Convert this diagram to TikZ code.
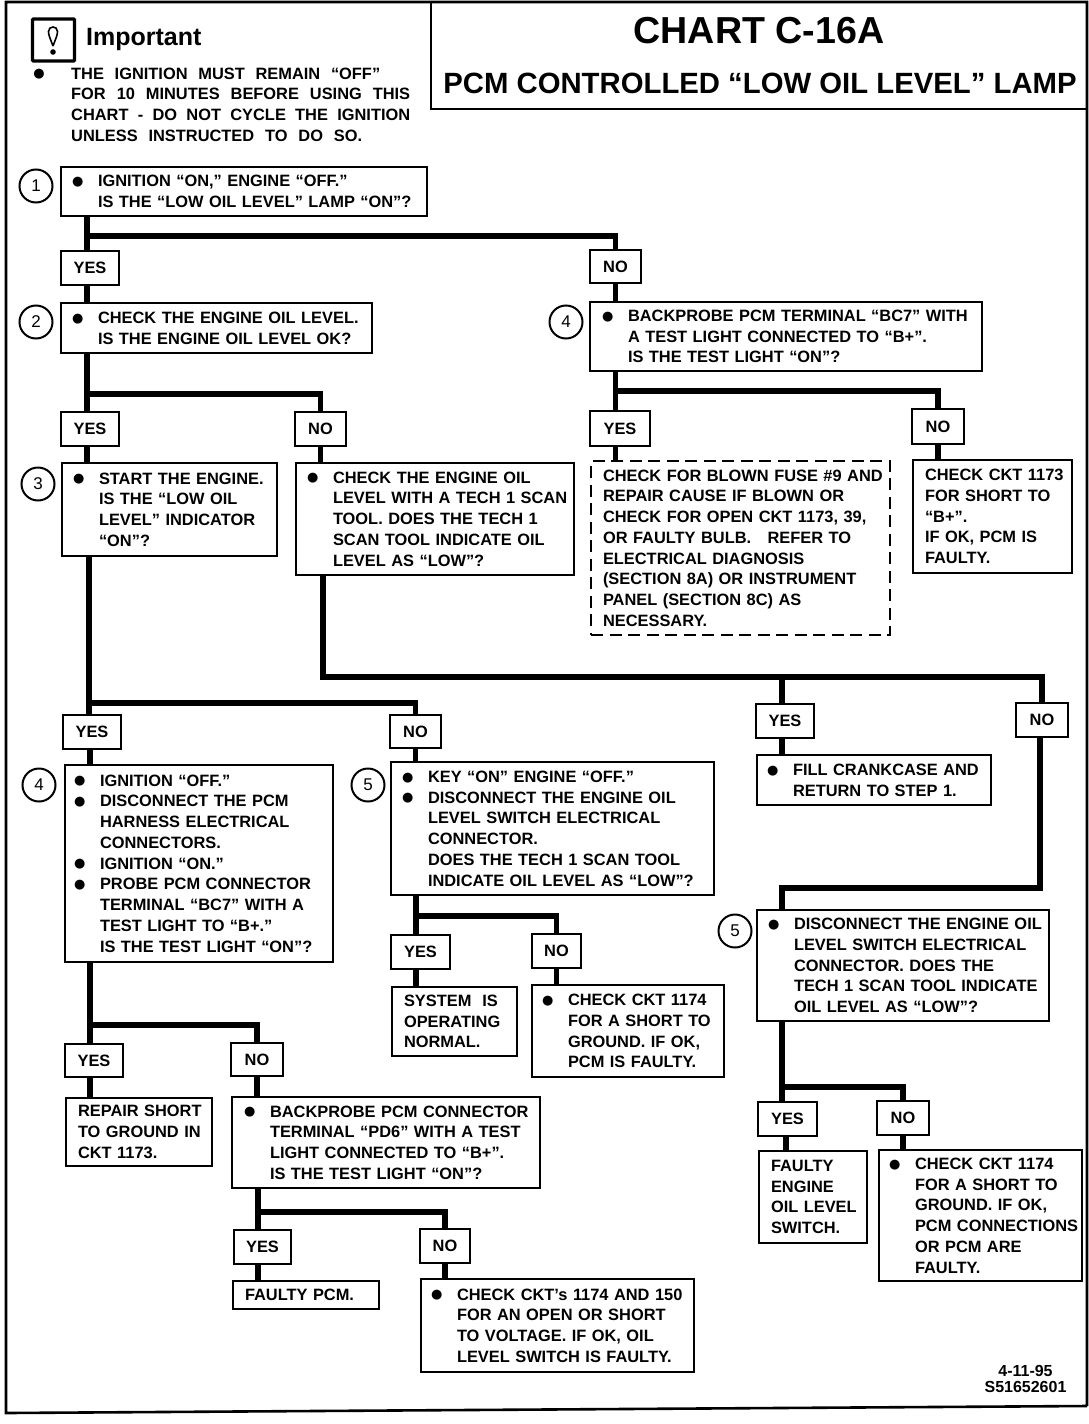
\documentclass[tikz,border=0pt]{standalone}
\usepackage{fontspec}
\setmainfont{Liberation Sans}
\newfontfamily\dotfont{DejaVu Sans}
\usetikzlibrary{calc}
\newcommand\bldot{\smash{\raisebox{1.2pt}{\dotfont\fontsize{13}{13}\selectfont ●}}}
\newcommand\bl{\leavevmode\llap{\bldot\hspace{14.5pt}}}
\newcommand\jl[2]{\leavevmode\hbox to #1pt{\spaceskip=4pt plus 1fil\relax #2}}
% style, name, x1,y1,x2,y2, text x, content
\newcommand\tb[8][box]{%
 \pgfmathsetmacro\bxw{#5-#3}\pgfmathsetmacro\bxh{#6-#4}%
 \pgfmathsetmacro\bxx{(#3+#5)/2}\pgfmathsetmacro\bxy{(#4+#6)/2}%
 \pgfmathsetmacro\bxp{#7-#3}%
 \node[#1,text width=\bxw pt,minimum height=\bxh pt] (#2) at (\bxx,\bxy)
 {\parindent=0pt\leftskip=\bxp pt\rightskip=-40pt plus 1fil\relax #8\par\vskip-5pt};}
\newcommand\yn[6]{%
 \pgfmathsetmacro\bxw{#4-#2}\pgfmathsetmacro\bxh{#5-#3}%
 \pgfmathsetmacro\bxx{(#2+#4)/2}\pgfmathsetmacro\bxy{(#3+#5)/2}%
 \node[ynbox,minimum width=\bxw pt,minimum height=\bxh pt] (#1) at (\bxx,\bxy) {#6};}
\tikzset{
 txt/.style={font=\fontsize{16.4}{20.75}\selectfont\bfseries},
 box/.style={draw=black,line width=2.3pt,inner sep=0pt,align=left,txt},
 dashbox/.style={box,dash pattern=on 12pt off 6.5pt},
 ynbox/.style={draw=black,line width=2.3pt,inner sep=0pt,align=center,txt},
 stepno/.style={draw=black,circle,line width=2pt,minimum size=33pt,inner sep=0pt,font=\fontsize{17}{17}\selectfont},
 conn/.style={draw=black,line width=5.2pt,line join=miter},
 frame/.style={draw=black,line width=2pt},
}
\begin{document}
\begin{tikzpicture}[x=1pt,y=-1pt]
\useasboundingbox (0,0) rectangle (1088,1424);
% frame and header
\coordinate (fTL) at (6,2);\coordinate (fTR) at (1087,2);
\coordinate (fBL) at (6,1413);\coordinate (fBR) at (1087,1406);
\draw[frame,line width=2.6pt] (fBR) -- (fBL) -- (fTL) -- (fTR) -- (fBR);
\coordinate (hL) at (431,2);\coordinate (hB) at (431,109);\coordinate (hR) at (1087,109);
\draw[frame] (hL) -- (hB) -- (hR);
\node[inner sep=0pt,font=\fontsize{37.6}{40}\selectfont\bfseries,anchor=base] (title) at (759,43.5) {CHART C-16A};
\node[inner sep=0pt,font=\fontsize{29.3}{30}\selectfont\bfseries,anchor=base] (subtitle) at (760,93.5) {PCM CONTROLLED “LOW OIL LEVEL” LAMP};
% important
\node[draw=black,line width=3.2pt,rounded corners=1pt,minimum width=42pt,minimum height=42pt,inner sep=0pt] (icon) at (53.5,40) {};
\draw[black,line width=1.6pt] (53,46) .. controls (50,38) and (48.5,35) .. (48.5,31.5) .. controls (48.5,25.5) and (57.5,25.5) .. (57.5,31.5) .. controls (57.5,35) and (56,38) .. (53,46);
\fill[black] (53,52) circle (2.8);
\node[inner sep=0pt,txt,font=\fontsize{25}{25}\selectfont\bfseries,anchor=base west] (imp) at (86,45) {Important};
\node[inner sep=0pt,txt,align=left,anchor=north west,text width=345pt] (note) at (71,67.5)
 {\parindent=0pt\leavevmode\llap{\bldot\hspace{26.5pt}}\jl{309}{THE IGNITION MUST REMAIN “OFF”}\\
  \jl{339}{FOR 10 MINUTES BEFORE USING THIS}\\
  \jl{339}{CHART - DO NOT CYCLE THE IGNITION}\\
  \jl{291}{UNLESS INSTRUCTED TO DO SO.}};
% step circles
\node[stepno] (c1) at (36,186) {1};
\node[stepno] (c2) at (36,322) {2};
\node[stepno] (c3) at (38,484) {3};
\node[stepno] (c4a) at (566,322) {4};
\node[stepno] (c4b) at (39,785) {4};
\node[stepno] (c5a) at (368,785) {5};
\node[stepno] (c5b) at (735,931) {5};
% boxes
\tb{b1}{61}{167}{427}{216}{98}{\bl IGNITION “ON,” ENGINE “OFF.”\\IS THE “LOW OIL LEVEL” LAMP “ON”?}
\tb{b2}{61}{303}{372}{353}{98}{\bl CHECK THE ENGINE OIL LEVEL.\\IS THE ENGINE OIL LEVEL OK?}
\tb{b3}{62}{463}{277}{556}{99}{\bl START THE ENGINE.\\IS THE “LOW OIL\\LEVEL” INDICATOR\\“ON”?}
\tb{b3n}{296}{463}{574}{575}{333}{\bl CHECK THE ENGINE OIL\\LEVEL WITH A TECH 1 SCAN\\TOOL. DOES THE TECH 1\\SCAN TOOL INDICATE OIL\\LEVEL AS “LOW”?}
\tb{b4a}{590}{302}{982}{371}{628}{\bl BACKPROBE PCM TERMINAL “BC7” WITH\\A TEST LIGHT CONNECTED TO “B+”.\\IS THE TEST LIGHT “ON”?}
\tb[dashbox]{fuse}{591}{461}{890}{635}{603}{CHECK FOR BLOWN FUSE \#9 AND\\REPAIR CAUSE IF BLOWN OR\\CHECK FOR OPEN CKT 1173, 39,\\OR FAULTY BULB.\ \ \ REFER TO\\ELECTRICAL DIAGNOSIS\\(SECTION 8A) OR INSTRUMENT\\PANEL (SECTION 8C) AS\\NECESSARY.}
\tb{short}{913}{460}{1072}{573}{925}{CHECK CKT 1173\\FOR SHORT TO\\“B+”.\\IF OK, PCM IS\\FAULTY.}
\tb{fill}{757}{755}{991}{805}{793}{\bl FILL CRANKCASE AND\\RETURN TO STEP 1.}
\tb{b5b}{757}{910}{1049}{1021}{794}{\bl DISCONNECT THE ENGINE OIL\\LEVEL SWITCH ELECTRICAL\\CONNECTOR. DOES THE\\TECH 1 SCAN TOOL INDICATE\\OIL LEVEL AS “LOW”?}
\tb{sw}{759}{1151}{867}{1243}{771}{FAULTY\\ENGINE\\OIL LEVEL\\SWITCH.}
\tb{ck2}{879}{1150}{1082}{1281}{915}{\bl CHECK CKT 1174\\FOR A SHORT TO\\GROUND. IF OK,\\PCM CONNECTIONS\\OR PCM ARE\\FAULTY.}
\tb{b4b}{65}{765}{333}{962}{100}{\bl IGNITION “OFF.”\\\bl DISCONNECT THE PCM\\HARNESS ELECTRICAL\\CONNECTORS.\\\bl IGNITION “ON.”\\\bl PROBE PCM CONNECTOR\\TERMINAL “BC7” WITH A\\TEST LIGHT TO “B+.”\\IS THE TEST LIGHT “ON”?}
\tb{b5a}{391}{762}{714}{895}{428}{\bl KEY “ON” ENGINE “OFF.”\\\bl DISCONNECT THE ENGINE OIL\\LEVEL SWITCH ELECTRICAL\\CONNECTOR.\\DOES THE TECH 1 SCAN TOOL\\INDICATE OIL LEVEL AS “LOW”?}
\tb{sys}{392}{987}{517}{1056}{404}{SYSTEM\ \ IS\\OPERATING\\NORMAL.}
\tb{ck1}{532}{985}{724}{1077}{568}{\bl CHECK CKT 1174\\FOR A SHORT TO\\GROUND. IF OK,\\PCM IS FAULTY.}
\tb{rep}{66}{1098}{212}{1166}{78}{REPAIR SHORT\\TO GROUND IN\\CKT 1173.}
\tb{bp}{232}{1097}{540}{1188}{270}{\bl BACKPROBE PCM CONNECTOR\\TERMINAL “PD6” WITH A TEST\\LIGHT CONNECTED TO “B+”.\\IS THE TEST LIGHT “ON”?}
\tb{fpcm}{233}{1281}{379}{1309}{245}{FAULTY PCM.}
\tb{ck3}{421}{1279}{694}{1372}{457}{\bl CHECK CKT’s 1174 AND 150\\FOR AN OPEN OR SHORT\\TO VOLTAGE. IF OK, OIL\\LEVEL SWITCH IS FAULTY.}
% yes/no
\yn{y1}{61}{251}{119}{285}{YES}
\yn{n1}{590}{250}{641}{283}{NO}
\yn{y2}{61}{412}{119}{446}{YES}
\yn{n2}{295}{412}{346}{446}{NO}
\yn{y3}{590}{411}{650}{446}{YES}
\yn{n3}{912}{409}{964}{444}{NO}
\yn{y4}{756}{704}{814}{738}{YES}
\yn{n4}{1016}{703}{1068}{737}{NO}
\yn{y5}{63}{715}{121}{749}{YES}
\yn{n5}{390}{715}{441}{748}{NO}
\yn{y6}{391}{935}{450}{969}{YES}
\yn{n6}{532}{934}{581}{968}{NO}
\yn{y7}{65}{1044}{123}{1077}{YES}
\yn{n7}{231}{1043}{283}{1076}{NO}
\yn{y8}{234}{1230}{291}{1264}{YES}
\yn{n8}{420}{1229}{470}{1263}{NO}
\yn{y9}{758}{1102}{817}{1136}{YES}
\yn{n9}{877}{1101}{929}{1135}{NO}
% junctions
\coordinate (j1) at (87,236);
\coordinate (j2) at (87,394);
\coordinate (j3) at (615.5,391);
\coordinate (j4) at (89,703);
\coordinate (j5) at (416,916);
\coordinate (j6) at (90,1025);
\coordinate (j7) at (258,1212);
\coordinate (j8) at (782,1087);
\coordinate (j9) at (323,677);
\coordinate (j10) at (782,677);
\coordinate (j11) at (1040,888);
\coordinate (j12) at (782,888);
% connectors
\draw[conn] (j1 |- b1.south) -- (j1 |- y1.north);
\draw[conn] (j1) -| (n1.north);
\draw[conn] (j1 |- y1.south) -- (j1 |- b2.north);
\draw[conn] (n1.south) -- (n1.south |- b4a.north);
\draw[conn] (j2 |- b2.south) -- (j2 |- y2.north);
\draw[conn] (j2) -| (n2.north);
\draw[conn] (j2 |- y2.south) -- (j2 |- b3.north);
\draw[conn] (n2.south) -- (n2.south |- b3n.north);
\draw[conn] (j3 |- b4a.south) -- (j3 |- y3.north);
\draw[conn] (j3) -| (n3.north);
\draw[conn] (j3 |- y3.south) -- (j3 |- fuse.north);
\draw[conn] (n3.south) -- (n3.south |- short.north);
\draw[conn] (j9 |- b3n.south) -- (j9) -| (n4.north);
\draw[conn] (j10) -- (j10 |- y4.north);
\draw[conn] (j10 |- y4.south) -- (j10 |- fill.north);
\draw[conn] (j11 |- n4.south) -- (j11) -- (j12) -- (j12 |- b5b.north);
\draw[conn] (j8 |- b5b.south) -- (j8 |- y9.north);
\draw[conn] (j8) -| (n9.north);
\draw[conn] ([xshift=-1.5pt]y9.south) -- ([xshift=-1.5pt]y9.south |- sw.north);
\draw[conn] (n9.south) -- (n9.south |- ck2.north);
\draw[conn] (j4 |- b3.south) -- (j4 |- y5.north);
\draw[conn] (j4) -| (n5.north);
\draw[conn] (y5.south -| j6) -- (j6 |- b4b.north);
\draw[conn] (n5.south) -- (n5.south |- b5a.north);
\draw[conn] (j5 |- b5a.south) -- (j5 |- y6.north);
\draw[conn] (j5) -| (n6.north);
\draw[conn] (j5 |- y6.south) -- (j5 |- sys.north);
\draw[conn] (n6.south) -- (n6.south |- ck1.north);
\draw[conn] (j6 |- b4b.south) -- (j6 |- y7.north);
\draw[conn] (j6) -| (n7.north);
\draw[conn] (j6 |- y7.south) -- (j6 |- rep.north);
\draw[conn] (n7.south) -- (n7.south |- bp.north);
\draw[conn] (j7 |- bp.south) -- (j7 |- y8.north);
\draw[conn] (j7) -| (n8.north);
\draw[conn] (j7 |- y8.south) -- (j7 |- fpcm.north);
\draw[conn] (n8.south) -- (n8.south |- ck3.north);
% date
\node[inner sep=0pt,font=\fontsize{16}{16.5}\selectfont\bfseries,align=center] (date) at (1025.5,1379) {4-11-95\\S51652601};
\end{tikzpicture}
\end{document}
